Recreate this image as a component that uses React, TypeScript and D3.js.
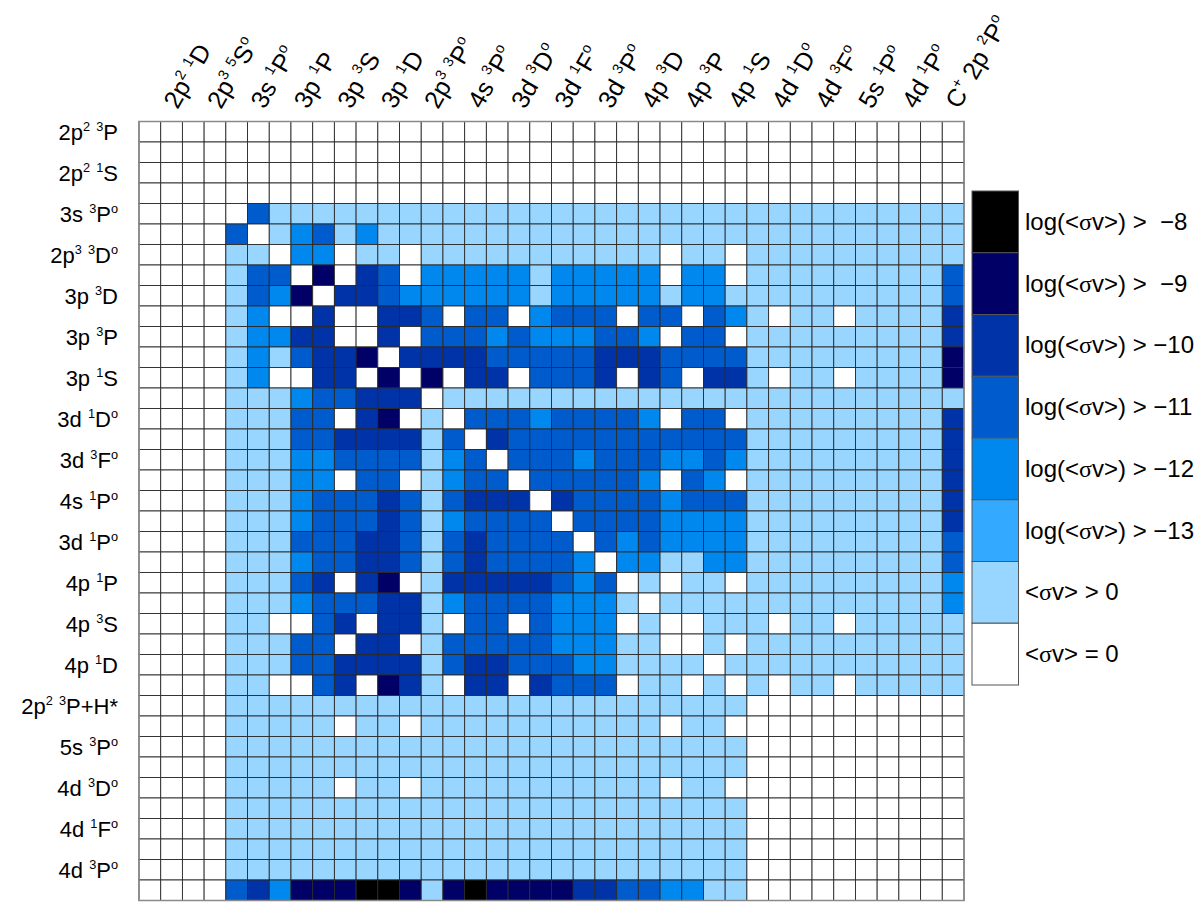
import React from 'react';
import { scaleBand, scaleOrdinal, range } from 'd3';

// 38 levels of atomic carbon; "^x" marks a superscript character
const stateLabels = [
  '2p^2 ^3P', '2p^2 ^1D', '2p^2 ^1S', '2p^3 ^5S^o', '3s ^3P^o', '3s ^1P^o', '2p^3 ^3D^o', '3p ^1P',
  '3p ^3D', '3p ^3S', '3p ^3P', '3p ^1D', '3p ^1S', '2p^3 ^3P^o', '3d ^1D^o', '4s ^3P^o',
  '3d ^3F^o', '3d ^3D^o', '4s ^1P^o', '3d ^1F^o', '3d ^1P^o', '3d ^3P^o', '4p ^1P', '4p ^3D',
  '4p ^3S', '4p ^3P', '4p ^1D', '4p ^1S', '2p^2 ^3P+H*', '4d ^1D^o', '5s ^3P^o', '4d ^3F^o',
  '4d ^3D^o', '5s ^1P^o', '4d ^1F^o', '4d ^1P^o', '4d ^3P^o', 'C^+ 2p ^2P^o',
];

// rate class per cell (row = initial level, column = final level), 0..7
const rateRows = [
  '00000000000000000000000000000000000000',
  '00000000000000000000000000000000000000',
  '00000000000000000000000000000000000000',
  '00000000000000000000000000000000000000',
  '00000411111111111111111111111111111111',
  '00004013413111111111111111111111111111',
  '00001103301101111111111101101111111111',
  '00001440605403333313333303301111111114',
  '00001436055433333313333313311111111114',
  '00001300500554044034440440431011011115',
  '00001335500504443433344304401111111115',
  '00001314556055554444455544441111111116',
  '00001300550606055044450540551011011116',
  '00001113445550111111111111111111111111',
  '00001114405601044434444304401111111115',
  '00001114455551405444444444441111111115',
  '00001113344441340444344433431111111115',
  '00001113304401344044444304301111111115',
  '00001113444541455505444434441111111115',
  '00001113444541344440444433331111111115',
  '00001114445541454444043433331111111114',
  '00001113445541454444303311331111111114',
  '00001114505601555554340101101111111113',
  '00001113444551344443331011111111111113',
  '00001100450551044043330100111011011111',
  '00001114405501444443331100101111111111',
  '00001114455551455444331111011111111111',
  '00001100450651055054440110101011011111',
  '00001111111111111111111111110000000000',
  '00001111101101111111111101100000000000',
  '00001111111111111111111111110000000000',
  '00001111111111111111111111110000000000',
  '00001111101101111111111101100000000000',
  '00001111111111111111111111110000000000',
  '00001111111111111111111111110000000000',
  '00001111111111111111111111110000000000',
  '00001111111111111111111111110000000000',
  '00004536667761676666554433110000000000',
];

const levels = [7, 6, 5, 4, 3, 2, 1, 0];
const levelColors = ['#000000', '#000066', '#0032a8', '#005bcc', '#0088ee', '#33aaff', '#99d6ff', '#ffffff'];
const legendLabels = [
  'log(<σv>) >  −8',
  'log(<σv>) >  −9',
  'log(<σv>) > −10',
  'log(<σv>) > −11',
  'log(<σv>) > −12',
  'log(<σv>) > −13',
  '<σv> > 0',
  '<σv> = 0',
];

const FONT = 'Liberation Sans, Arial, Helvetica, sans-serif';

function parseLabel(s: string) {
  const segs: { t: string; sup: boolean }[] = [];
  for (let i = 0; i < s.length; i++) {
    let sup = false;
    let ch = s[i];
    if (ch === '^') { sup = true; ch = s[++i]; }
    const last = segs[segs.length - 1];
    if (last && last.sup === sup) last.t += ch;
    else segs.push({ t: ch, sup });
  }
  return segs;
}

function RichLabel({ label, size }: { label: string; size: number }) {
  let shift = 0;
  return (
    <>
      {parseLabel(label).map((s, i) => {
        const target = s.sup ? -size * 0.42 : 0;
        const dy = target - shift;
        shift = target;
        return (
          <tspan key={i} dy={dy} fontSize={s.sup ? size * 0.58 : size}>{s.t}</tspan>
        );
      })}
    </>
  );
}

function LegendText({ text }: { text: string }) {
  const parts = text.split('σ');
  return (
    <>
      {parts[0]}
      <tspan fontFamily="Liberation Serif, Times New Roman, serif">σ</tspan>
      {parts[1]}
    </>
  );
}

export default function App() {
  const width = 1200;
  const height = 906;
  const n = stateLabels.length;
  const idx = range(n);

  const x = scaleBand<number>().domain(idx).range([139, 964]).padding(0);
  const y = scaleBand<number>().domain(idx).range([121.5, 900.5]).padding(0);
  const color = scaleOrdinal<number, string>().domain(levels).range(levelColors);

  const legendY = scaleBand<number>().domain(levels).range([191, 685]).padding(0);
  const legendX = 972;
  const legendW = 46.5;

  const cells = rateRows.flatMap((row, r) =>
    row.split('').map((v, c) => ({ r, c, v: +v }))
  );

  const rowSize = 22;
  const colSize = 25;

  return (
    <svg
      width={width}
      height={height}
      style={{ position: 'absolute', left: 0, top: 0, background: '#fff' }}
      fontFamily={FONT}
    >
      <g>
        {cells.map(d => (
          <rect
            key={`${d.r}-${d.c}`}
            x={x(d.c)}
            y={y(d.r)}
            width={x.bandwidth()}
            height={y.bandwidth()}
            fill={color(d.v)}
            stroke="#2a2a2a"
            strokeWidth={0.9}
          />
        ))}
        <rect x={139} y={121.5} width={825} height={779} fill="none" stroke="#8a8a8a" strokeWidth={1.5} />
      </g>

      {/* row labels: even levels */}
      <g>
        {idx.filter(i => i % 2 === 0).map(i => (
          <text
            key={i}
            x={118}
            y={(y(i) as number) + y.bandwidth() / 2 + 8}
            textAnchor="end"
            fontSize={rowSize}
            style={{ whiteSpace: 'pre' }}
          >
            <RichLabel label={stateLabels[i]} size={rowSize} />
          </text>
        ))}
      </g>

      {/* column labels: odd levels */}
      <g>
        {idx.filter(i => i % 2 === 1).map(i => {
          const cx = (x(i) as number) + x.bandwidth() / 2 + 6;
          const cy = 110;
          return (
            <text
              key={i}
              transform={`translate(${cx},${cy}) rotate(-60)`}
              fontSize={colSize}
              style={{ whiteSpace: 'pre' }}
            >
              <RichLabel label={stateLabels[i]} size={colSize} />
            </text>
          );
        })}
      </g>

      {/* legend */}
      <g>
        {levels.map((lv, i) => (
          <g key={lv}>
            <rect
              x={legendX}
              y={legendY(lv)}
              width={legendW}
              height={legendY.bandwidth()}
              fill={color(lv)}
              stroke="#555"
              strokeWidth={1}
            />
            <text
              x={1025}
              y={(legendY(lv) as number) + legendY.bandwidth() / 2 + 8}
              fontSize={24}
              style={{ whiteSpace: 'pre' }}
            >
              <LegendText text={legendLabels[i]} />
            </text>
          </g>
        ))}
      </g>
    </svg>
  );
}
